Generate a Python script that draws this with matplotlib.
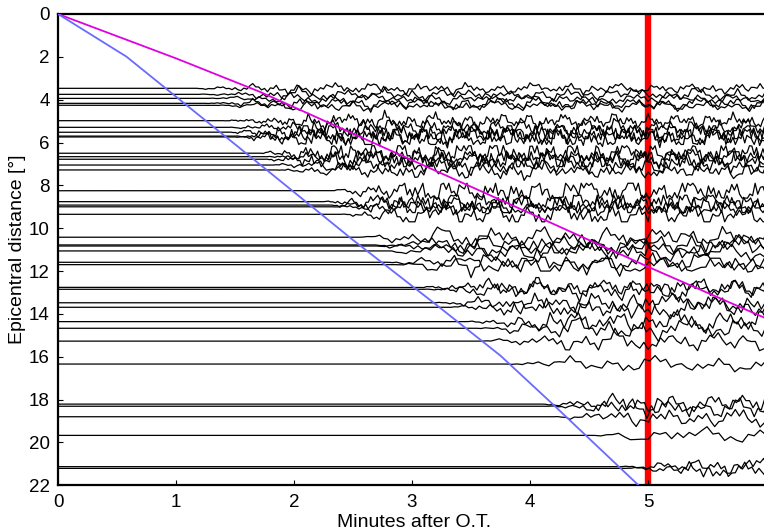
"""Record section: seismograms by epicentral distance vs. minutes after origin time."""

import matplotlib

matplotlib.use("Agg")
import matplotlib.pyplot as plt
import numpy as np

plt.rcParams["font.family"] = ["Liberation Sans", "DejaVu Sans"]

# station distances [deg], onset of visible motion [min], amplitude [deg],
# sample step [min] and clip level (0 = not clipped)
DISTANCES = [3.47, 3.75, 3.94, 4.17, 4.26, 4.98, 5.29, 5.52, 5.70, 5.74,
             6.50, 6.66, 6.78, 7.05, 7.28, 8.25, 8.76, 8.92, 9.00, 9.35,
             10.42, 10.78, 10.83, 11.06, 11.59, 11.70, 12.76, 12.85, 13.48,
             13.69, 14.36, 14.67, 15.27, 16.34, 18.21, 18.31, 18.80, 19.67,
             21.13, 21.21]
ONSETS = [1.15, 1.20, 1.25, 1.25, 1.30, 1.40, 1.45, 1.45, 1.50, 1.50,
          1.70, 1.75, 1.75, 1.80, 1.85, 2.30, 2.25, 2.30, 2.30, 2.40,
          2.55, 2.65, 2.70, 2.75, 2.80, 2.85, 3.05, 3.10, 3.20,
          3.30, 3.45, 3.55, 3.60, 3.80, 4.10, 4.15, 4.20, 4.50,
          4.75, 4.80]
AMPLITUDES = [0.30, 0.35, 0.30, 0.35, 0.30, 0.40, 0.45, 0.75, 0.50, 0.75,
              0.75, 0.50, 0.80, 0.50, 0.50, 0.75, 0.70, 0.75, 0.45, 0.70,
              0.60, 0.55, 0.60, 0.55, 0.60, 0.70, 0.50, 0.55, 0.55,
              0.60, 0.60, 0.60, 0.55, 0.45, 0.55, 0.55, 0.55, 0.50,
              0.50, 0.50]
STEPS = [0.025, 0.030, 0.030, 0.025, 0.030, 0.018, 0.020, 0.018, 0.018, 0.020,
         0.020, 0.022, 0.020, 0.025, 0.025, 0.022, 0.020, 0.022, 0.025, 0.025,
         0.035, 0.040, 0.035, 0.040, 0.035, 0.040, 0.025, 0.030, 0.030,
         0.030, 0.030, 0.035, 0.035, 0.045, 0.030, 0.030, 0.035, 0.050,
         0.030, 0.030]
CLIPS = [0, 0, 0, 0, 0, 0, 0, 0.30, 0, 0.35,
         0.35, 0, 0.35, 0, 0, 0.35, 0.30, 0.35, 0, 0.35,
         0, 0, 0, 0, 0, 0.30, 0, 0, 0,
         0, 0, 0, 0, 0, 0, 0, 0, 0,
         0, 0]

# hand-typed ground motion pattern shared by the traces
WIGGLE = [0.12, -0.35, 0.58, -0.21, 0.74, -0.66, 0.30, 0.91, -0.48, 0.05,
          -0.83, 0.44, -0.12, 0.67, -0.95, 0.22, 0.53, -0.40, 0.81, -0.27,
          -0.70, 0.36, -0.08, 0.62, -0.55, 0.98, -0.33, 0.15, -0.77, 0.49,
          0.02, -0.61, 0.86, -0.19, 0.40, -0.88, 0.27, 0.71, -0.45, -0.10,
          0.57, -0.92, 0.33, -0.24, 0.79, -0.52, 0.10, 0.64, -0.73, 0.20,
          -0.38, 0.95, -0.60, 0.07, 0.46, -0.85, 0.31, -0.16, 0.69, -0.42,
          0.88, -0.29, -0.64, 0.18, 0.52, -0.97, 0.41, -0.05, 0.76, -0.57,
          0.25, -0.31, 0.83, -0.68, 0.11, 0.59, -0.44, 0.93, -0.23, -0.79,
          0.37, 0.04, -0.50, 0.72, -0.14, 0.47, -0.90, 0.28, 0.66, -0.37,
          -0.02, 0.55, -0.75, 0.34, -0.26, 0.85, -0.58, 0.16, -0.47, 0.63]

# travel-time curves (minutes, degrees)
MAGENTA_T = [0.0, 1.0, 1.71, 3.75, 5.0, 6.1]
MAGENTA_D = [0.0, 2.07, 3.63, 8.68, 11.8, 14.45]
BLUE_T = [0.0, 0.58, 1.63, 2.5, 3.2, 3.75, 4.2, 4.92, 5.0]
BLUE_D = [0.0, 1.99, 6.66, 10.55, 13.55, 15.95, 18.25, 22.0, 22.45]

MARK_TIME = 5.0
X_TICKS = [0, 1, 2, 3, 4, 5]
Y_TICKS = list(range(0, 23, 2))
END_TIME = 6.2


def trace(i):
    onset, step = ONSETS[i], STEPS[i]
    n = int((END_TIME - onset) / step) + 1
    w = np.array(WIGGLE)
    k = np.arange(n)
    t = onset + k * step
    # fine jitter on top of a slower swing, both taken from the same pattern
    fine = w[(i * 13 + k) % len(w)]
    coarse_t = onset + np.arange(n // 4 + 2) * step * 4
    coarse = w[(i * 29 + 50 + np.arange(len(coarse_t))) % len(w)]
    swing = np.interp(t, coarse_t, coarse)
    ramp = np.minimum(1.0, (k * step) / 0.7)
    y = AMPLITUDES[i] * ramp * (0.45 * fine + 0.85 * swing)
    if CLIPS[i]:
        y = np.clip(y, -CLIPS[i], CLIPS[i])
    t = np.concatenate([[0.0], t])
    y = np.concatenate([[0.0], y])
    return t, DISTANCES[i] + y


fig = plt.figure(figsize=(7.64, 5.31), dpi=100)
ax = fig.add_axes([58 / 764, 1 - 485.3 / 531, 712 / 764, 471.3 / 531])

ax.axvline(MARK_TIME, color="#ff0000", lw=4.6, zorder=1)
for i in range(len(DISTANCES)):
    t, y = trace(i)
    ax.plot(t, y, color="black", lw=0.9, zorder=2)
ax.plot(MAGENTA_T, MAGENTA_D, color="#e000e0", lw=1.3, zorder=3)
ax.plot(BLUE_T, BLUE_D, color="#6a6aff", lw=1.3, zorder=3)

ax.set_xlim(0, 712 / 118)
ax.set_ylim(22, 0)
ax.set_xticks(X_TICKS)
ax.set_yticks(Y_TICKS)
ax.tick_params(direction="in", length=3.3, width=0.8, labelsize=13.5,
               top=False, right=True, pad=6)
for spine in ax.spines.values():
    spine.set_linewidth(1.6)

ax.set_xlabel("Minutes after O.T.", fontsize=14, labelpad=2.5)
ax.set_ylabel("Epicentral distance [°]", fontsize=14, labelpad=2)

fig.savefig("out.png", dpi=100)
